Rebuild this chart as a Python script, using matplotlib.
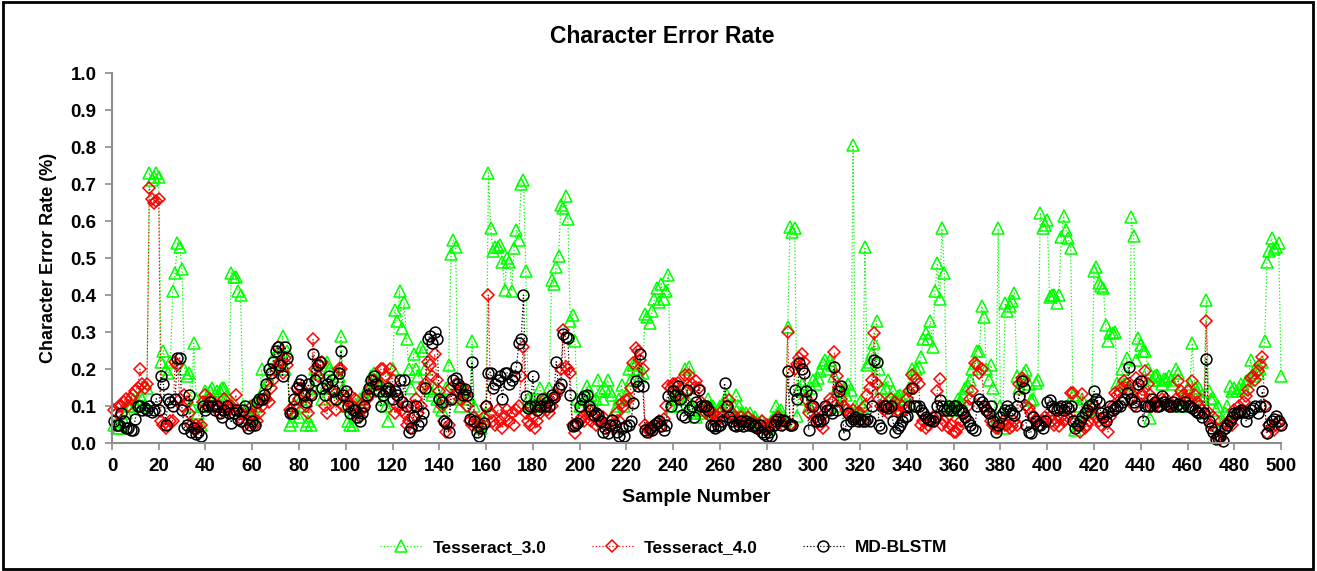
import numpy as np
import matplotlib
matplotlib.use("Agg")
import matplotlib.pyplot as plt
from matplotlib.patches import Rectangle

plt.rcParams['font.family'] = ['Liberation Sans', 'DejaVu Sans']
plt.rcParams['font.weight'] = 'bold'

# character error rate per sample (samples 1..500)
tess3 = [
    0.05, 0.04, 0.04, 0.05, 0.06, 0.08, 0.1, 0.1, 0.12, 0.1,
    0.11, 0.13, 0.12, 0.1, 0.15, 0.73, 0.71, 0.72, 0.73, 0.72,
    0.22, 0.25, 0.2, 0.19, 0.22, 0.41, 0.46, 0.54, 0.53, 0.47,
    0.2, 0.18, 0.19, 0.1, 0.27, 0.12, 0.08, 0.05, 0.1, 0.14,
    0.13, 0.14, 0.15, 0.13, 0.14, 0.14, 0.15, 0.15, 0.13, 0.12,
    0.46, 0.45, 0.45, 0.41, 0.40, 0.1, 0.09, 0.08, 0.1, 0.07,
    0.08, 0.1, 0.12, 0.2, 0.15, 0.13, 0.17, 0.2, 0.23, 0.21,
    0.25, 0.22, 0.29, 0.2, 0.25, 0.05, 0.06, 0.08, 0.12, 0.07,
    0.12, 0.1, 0.05, 0.06, 0.05, 0.15, 0.2, 0.19, 0.15, 0.12,
    0.15, 0.22, 0.2, 0.15, 0.12, 0.19, 0.18, 0.29, 0.15, 0.1,
    0.06, 0.05, 0.05, 0.07, 0.1, 0.12, 0.1, 0.13, 0.15, 0.14,
    0.18, 0.19, 0.17, 0.15, 0.16, 0.12, 0.1, 0.06, 0.15, 0.2,
    0.36, 0.33, 0.41, 0.31, 0.38, 0.28, 0.2, 0.15, 0.24, 0.2,
    0.18, 0.26, 0.25, 0.2, 0.15, 0.14, 0.13, 0.15, 0.12, 0.1,
    0.09, 0.12, 0.15, 0.21, 0.51, 0.55, 0.53, 0.12, 0.1, 0.14,
    0.14, 0.13, 0.12, 0.275, 0.1, 0.06, 0.05, 0.04, 0.06, 0.08,
    0.73, 0.58, 0.52, 0.53, 0.53, 0.535, 0.49, 0.415, 0.5, 0.49,
    0.41, 0.527, 0.576, 0.55, 0.70, 0.71, 0.464, 0.12, 0.1, 0.12,
    0.1, 0.12, 0.15, 0.12, 0.1, 0.12, 0.15, 0.44, 0.43, 0.476,
    0.505, 0.644, 0.635, 0.667, 0.605, 0.33, 0.347, 0.275, 0.12, 0.1,
    0.1, 0.12, 0.153, 0.14, 0.13, 0.1, 0.12, 0.17, 0.14, 0.12,
    0.15, 0.17, 0.14, 0.13, 0.09, 0.1, 0.12, 0.158, 0.1, 0.13,
    0.2, 0.17, 0.21, 0.216, 0.2, 0.18, 0.19, 0.35, 0.34, 0.324,
    0.356, 0.39, 0.42, 0.38, 0.43, 0.39, 0.41, 0.455, 0.1, 0.12,
    0.12, 0.1, 0.13, 0.15, 0.2, 0.12, 0.207, 0.1, 0.08, 0.07,
    0.09, 0.08, 0.1, 0.09, 0.12, 0.1, 0.1, 0.08, 0.09, 0.1,
    0.1, 0.12, 0.13, 0.1, 0.08, 0.1, 0.13, 0.1, 0.08, 0.08,
    0.08, 0.07, 0.08, 0.06, 0.07, 0.06, 0.05, 0.06, 0.05, 0.04,
    0.05, 0.06, 0.07, 0.1, 0.08, 0.09, 0.07, 0.06, 0.313, 0.585,
    0.57, 0.58, 0.072, 0.15, 0.16, 0.14, 0.12, 0.1, 0.15, 0.17,
    0.16, 0.175, 0.194, 0.216, 0.225, 0.2, 0.225, 0.21, 0.18, 0.15,
    0.1, 0.12, 0.15, 0.13, 0.16, 0.144, 0.806, 0.1, 0.08, 0.11,
    0.1, 0.53, 0.21, 0.22, 0.243, 0.27, 0.33, 0.2, 0.15, 0.12,
    0.15, 0.17, 0.1, 0.14, 0.12, 0.126, 0.13, 0.12, 0.126, 0.1,
    0.15, 0.2, 0.19, 0.2, 0.207, 0.234, 0.28, 0.297, 0.28, 0.33,
    0.26, 0.41, 0.486, 0.39, 0.58, 0.46, 0.1, 0.1, 0.09, 0.1,
    0.1, 0.12, 0.11, 0.13, 0.15, 0.153, 0.17, 0.2, 0.216, 0.248,
    0.25, 0.37, 0.342, 0.2, 0.17, 0.21, 0.15, 0.06, 0.58, 0.1,
    0.04, 0.378, 0.356, 0.37, 0.383, 0.405, 0.18, 0.15, 0.17, 0.19,
    0.198, 0.16, 0.117, 0.12, 0.162, 0.17, 0.623, 0.58, 0.59, 0.604,
    0.396, 0.40, 0.4, 0.378, 0.4, 0.558, 0.614, 0.576, 0.554, 0.527,
    0.13, 0.036, 0.05, 0.1, 0.12, 0.08, 0.1, 0.09, 0.1, 0.464,
    0.477, 0.432, 0.424, 0.42, 0.32, 0.275, 0.297, 0.297, 0.3, 0.162,
    0.16, 0.2, 0.16, 0.23, 0.15, 0.61, 0.56, 0.225, 0.284, 0.266,
    0.25, 0.248, 0.2, 0.068, 0.17, 0.18, 0.185, 0.17, 0.16, 0.174,
    0.174, 0.18, 0.17, 0.16, 0.2, 0.19, 0.1, 0.13, 0.12, 0.15,
    0.16, 0.27, 0.15, 0.14, 0.15, 0.13, 0.12, 0.387, 0.14, 0.12,
    0.122, 0.09, 0.1, 0.04, 0.06, 0.08, 0.1, 0.153, 0.14, 0.15,
    0.14, 0.15, 0.16, 0.15, 0.167, 0.17, 0.225, 0.18, 0.2, 0.19,
    0.2, 0.22, 0.275, 0.49, 0.518, 0.554, 0.524, 0.53, 0.54, 0.182,
]

tess4 = [
    0.09, 0.08, 0.1, 0.1, 0.11, 0.12, 0.1, 0.12, 0.13, 0.14,
    0.15, 0.2, 0.16, 0.15, 0.16, 0.69, 0.66, 0.65, 0.655, 0.66,
    0.06, 0.05, 0.04, 0.05, 0.06, 0.06, 0.22, 0.21, 0.12, 0.1,
    0.13, 0.11, 0.08, 0.05, 0.04, 0.05, 0.04, 0.05, 0.11, 0.13,
    0.1, 0.12, 0.11, 0.1, 0.1, 0.08, 0.09, 0.12, 0.1, 0.09,
    0.1, 0.09, 0.13, 0.09, 0.08, 0.06, 0.05, 0.06, 0.08, 0.1,
    0.05, 0.06, 0.08, 0.1, 0.12, 0.12, 0.11, 0.15, 0.17, 0.2,
    0.26, 0.22, 0.19, 0.23, 0.21, 0.09, 0.08, 0.1, 0.15, 0.12,
    0.15, 0.13, 0.1, 0.08, 0.13, 0.28, 0.2, 0.18, 0.21, 0.22,
    0.1, 0.08, 0.15, 0.14, 0.12, 0.09, 0.2, 0.2, 0.1, 0.12,
    0.11, 0.13, 0.1, 0.12, 0.08, 0.07, 0.09, 0.1, 0.12, 0.13,
    0.15, 0.17, 0.14, 0.16, 0.2, 0.2, 0.18, 0.15, 0.2, 0.17,
    0.08, 0.1, 0.12, 0.09, 0.08, 0.05, 0.06, 0.04, 0.1, 0.12,
    0.08, 0.1, 0.15, 0.16, 0.22, 0.21, 0.18, 0.24, 0.17, 0.14,
    0.1, 0.06, 0.03, 0.05, 0.15, 0.12, 0.16, 0.14, 0.12, 0.15,
    0.13, 0.1, 0.06, 0.05, 0.07, 0.06, 0.04, 0.05, 0.07, 0.1,
    0.40, 0.08, 0.06, 0.05, 0.09, 0.06, 0.04, 0.07, 0.09, 0.06,
    0.08, 0.05, 0.09, 0.1, 0.18, 0.26, 0.08, 0.06, 0.05, 0.07,
    0.04, 0.06, 0.08, 0.1, 0.12, 0.09, 0.08, 0.1, 0.12, 0.13,
    0.15, 0.2, 0.306, 0.207, 0.2, 0.19, 0.05, 0.027, 0.05, 0.06,
    0.07, 0.06, 0.08, 0.09, 0.06, 0.07, 0.05, 0.06, 0.06, 0.07,
    0.05, 0.04, 0.06, 0.05, 0.04, 0.08, 0.06, 0.108, 0.1, 0.117,
    0.12, 0.15, 0.216, 0.257, 0.25, 0.225, 0.2, 0.05, 0.04, 0.03,
    0.04, 0.05, 0.055, 0.06, 0.045, 0.065, 0.1, 0.153, 0.15, 0.16,
    0.16, 0.162, 0.13, 0.12, 0.185, 0.14, 0.183, 0.16, 0.15, 0.167,
    0.15, 0.11, 0.1, 0.08, 0.09, 0.07, 0.08, 0.06, 0.07, 0.08,
    0.07, 0.06, 0.1, 0.117, 0.08, 0.07, 0.06, 0.06, 0.07, 0.06,
    0.06, 0.07, 0.05, 0.06, 0.05, 0.04, 0.05, 0.06, 0.04, 0.05,
    0.04, 0.05, 0.06, 0.05, 0.07, 0.06, 0.05, 0.06, 0.3, 0.05,
    0.05, 0.2, 0.215, 0.23, 0.24, 0.22, 0.12, 0.08, 0.1, 0.1,
    0.07, 0.06, 0.05, 0.04, 0.08, 0.1, 0.12, 0.11, 0.245, 0.18,
    0.15, 0.12, 0.1, 0.09, 0.08, 0.08, 0.09, 0.07, 0.08, 0.06,
    0.06, 0.1, 0.13, 0.15, 0.17, 0.297, 0.16, 0.12, 0.1, 0.09,
    0.1, 0.08, 0.12, 0.1, 0.11, 0.09, 0.08, 0.1, 0.09, 0.12,
    0.14, 0.183, 0.15, 0.174, 0.16, 0.05, 0.06, 0.04, 0.05, 0.06,
    0.07, 0.06, 0.14, 0.174, 0.05, 0.06, 0.07, 0.04, 0.05, 0.03,
    0.03, 0.04, 0.06, 0.08, 0.07, 0.1, 0.12, 0.14, 0.216, 0.21,
    0.19, 0.2, 0.1, 0.09, 0.08, 0.06, 0.05, 0.04, 0.04, 0.05,
    0.06, 0.05, 0.05, 0.04, 0.045, 0.06, 0.05, 0.16, 0.176, 0.17,
    0.1, 0.095, 0.08, 0.07, 0.065, 0.06, 0.05, 0.06, 0.07, 0.06,
    0.07, 0.06, 0.05, 0.06, 0.045, 0.07, 0.06, 0.065, 0.07, 0.135,
    0.135, 0.06, 0.05, 0.03, 0.133, 0.04, 0.05, 0.06, 0.08, 0.1,
    0.07, 0.06, 0.05, 0.065, 0.06, 0.03, 0.07, 0.1, 0.135, 0.13,
    0.135, 0.15, 0.167, 0.16, 0.14, 0.12, 0.1, 0.176, 0.15, 0.13,
    0.13, 0.194, 0.16, 0.13, 0.1, 0.1, 0.11, 0.1, 0.12, 0.11,
    0.12, 0.1, 0.105, 0.1, 0.12, 0.167, 0.14, 0.13, 0.12, 0.14,
    0.12, 0.167, 0.13, 0.11, 0.1, 0.09, 0.08, 0.33, 0.08, 0.05,
    0.07, 0.04, 0.02, 0.01, 0.03, 0.05, 0.055, 0.06, 0.05, 0.09,
    0.08, 0.1, 0.085, 0.11, 0.126, 0.144, 0.176, 0.18, 0.17, 0.194,
    0.21, 0.234, 0.1, 0.027, 0.05, 0.04, 0.035, 0.05, 0.06, 0.05,
]

mdblstm = [
    0.06, 0.05, 0.05, 0.08, 0.06, 0.04, 0.04, 0.035, 0.035, 0.065,
    0.1, 0.1, 0.09, 0.095, 0.09, 0.1, 0.085, 0.09, 0.12, 0.09,
    0.18, 0.16, 0.05, 0.12, 0.11, 0.1, 0.12, 0.23, 0.23, 0.09,
    0.04, 0.05, 0.13, 0.03, 0.04, 0.025, 0.03, 0.02, 0.1, 0.09,
    0.1, 0.11, 0.1, 0.09, 0.1, 0.08, 0.07, 0.09, 0.1, 0.08,
    0.055, 0.08, 0.09, 0.065, 0.06, 0.09, 0.1, 0.04, 0.05, 0.06,
    0.05, 0.11, 0.12, 0.12, 0.13, 0.16, 0.2, 0.19, 0.22, 0.25,
    0.26, 0.21, 0.18, 0.26, 0.23, 0.08, 0.08, 0.12, 0.15, 0.16,
    0.17, 0.13, 0.11, 0.16, 0.13, 0.24, 0.17, 0.21, 0.22, 0.15,
    0.13, 0.16, 0.18, 0.17, 0.14, 0.12, 0.19, 0.25, 0.13, 0.14,
    0.1, 0.08, 0.09, 0.09, 0.07, 0.06, 0.08, 0.1, 0.13, 0.15,
    0.17, 0.18, 0.16, 0.14, 0.1, 0.13, 0.14, 0.15, 0.14, 0.12,
    0.14, 0.13, 0.17, 0.11, 0.17, 0.1, 0.03, 0.04, 0.07, 0.1,
    0.05, 0.06, 0.08, 0.15, 0.28, 0.29, 0.27, 0.3, 0.28, 0.12,
    0.11, 0.06, 0.055, 0.03, 0.12, 0.17, 0.175, 0.16, 0.15, 0.13,
    0.145, 0.13, 0.065, 0.22, 0.06, 0.03, 0.02, 0.04, 0.055, 0.1,
    0.19, 0.19, 0.15, 0.16, 0.17, 0.18, 0.12, 0.19, 0.19, 0.16,
    0.17, 0.18, 0.207, 0.27, 0.28, 0.40, 0.128, 0.095, 0.1, 0.18,
    0.1, 0.09, 0.1, 0.12, 0.1, 0.11, 0.1, 0.13, 0.125, 0.22,
    0.15, 0.16, 0.295, 0.288, 0.283, 0.13, 0.045, 0.05, 0.054, 0.1,
    0.12, 0.126, 0.13, 0.1, 0.09, 0.077, 0.08, 0.077, 0.06, 0.03,
    0.04, 0.027, 0.05, 0.063, 0.05, 0.03, 0.02, 0.04, 0.018, 0.045,
    0.05, 0.06, 0.108, 0.167, 0.153, 0.24, 0.153, 0.036, 0.03, 0.04,
    0.035, 0.05, 0.054, 0.06, 0.045, 0.036, 0.05, 0.126, 0.1, 0.14,
    0.13, 0.153, 0.12, 0.077, 0.07, 0.144, 0.09, 0.1, 0.07, 0.11,
    0.144, 0.1, 0.1, 0.1, 0.09, 0.05, 0.045, 0.04, 0.045, 0.05,
    0.06, 0.162, 0.1, 0.07, 0.06, 0.05, 0.045, 0.05, 0.06, 0.045,
    0.06, 0.05, 0.055, 0.045, 0.05, 0.04, 0.05, 0.03, 0.025, 0.02,
    0.03, 0.018, 0.05, 0.06, 0.065, 0.05, 0.063, 0.06, 0.194, 0.05,
    0.05, 0.144, 0.12, 0.216, 0.2, 0.19, 0.14, 0.036, 0.13, 0.1,
    0.06, 0.065, 0.06, 0.065, 0.1, 0.09, 0.09, 0.08, 0.205, 0.09,
    0.14, 0.153, 0.025, 0.05, 0.08, 0.06, 0.065, 0.07, 0.06, 0.065,
    0.06, 0.06, 0.065, 0.06, 0.1, 0.225, 0.22, 0.05, 0.04, 0.1,
    0.1, 0.095, 0.1, 0.06, 0.03, 0.04, 0.05, 0.06, 0.07, 0.072,
    0.1, 0.148, 0.1, 0.1, 0.1, 0.09, 0.08, 0.07, 0.065, 0.063,
    0.06, 0.07, 0.1, 0.117, 0.1, 0.09, 0.09, 0.1, 0.09, 0.1,
    0.1, 0.09, 0.09, 0.08, 0.07, 0.06, 0.05, 0.04, 0.036, 0.1,
    0.12, 0.11, 0.1, 0.09, 0.08, 0.1, 0.06, 0.03, 0.05, 0.07,
    0.08, 0.09, 0.1, 0.09, 0.08, 0.075, 0.1, 0.126, 0.167, 0.15,
    0.05, 0.03, 0.027, 0.07, 0.06, 0.05, 0.05, 0.04, 0.06, 0.11,
    0.117, 0.1, 0.095, 0.09, 0.095, 0.1, 0.09, 0.1, 0.095, 0.1,
    0.06, 0.04, 0.05, 0.06, 0.07, 0.08, 0.09, 0.1, 0.105, 0.14,
    0.12, 0.11, 0.08, 0.07, 0.06, 0.085, 0.1, 0.09, 0.095, 0.1,
    0.1, 0.11, 0.12, 0.135, 0.207, 0.12, 0.11, 0.1, 0.16, 0.167,
    0.06, 0.1, 0.1, 0.1, 0.12, 0.11, 0.1, 0.1, 0.126, 0.11,
    0.105, 0.1, 0.1, 0.11, 0.1, 0.105, 0.1, 0.1, 0.11, 0.1,
    0.1, 0.095, 0.09, 0.085, 0.08, 0.07, 0.08, 0.227, 0.06, 0.04,
    0.03, 0.01, 0.015, 0.02, 0.005, 0.04, 0.05, 0.06, 0.07, 0.08,
    0.08, 0.085, 0.09, 0.085, 0.06, 0.08, 0.09, 0.095, 0.1, 0.08,
    0.1, 0.14, 0.1, 0.027, 0.05, 0.06, 0.065, 0.072, 0.06, 0.05,
]

samples = np.arange(1, len(tess3) + 1)

fig = plt.figure(figsize=(13.17, 5.71), dpi=100)
ax = fig.add_axes([0.085, 0.224, 0.8877, 0.648])

ax.plot(samples, tess3, linestyle=':', linewidth=0.9, color='#00ff00',
        marker='^', markersize=8.5, markerfacecolor='none',
        markeredgecolor='#00ff00', markeredgewidth=1.1,
        label='Tesseract_3.0', clip_on=False)
ax.plot(samples, tess4, linestyle=':', linewidth=0.9, color='#ff0000',
        marker='D', markersize=6.3, markerfacecolor='none',
        markeredgecolor='#ff0000', markeredgewidth=1.1,
        label='Tesseract_4.0', clip_on=False)
ax.plot(samples, mdblstm, linestyle=':', linewidth=0.9, color='black',
        marker='o', markersize=7.8, markerfacecolor='none',
        markeredgecolor='black', markeredgewidth=1.1,
        label='MD-BLSTM', clip_on=False)

ax.set_xlim(0, 500)
ax.set_ylim(0, 1.0)
ax.set_xticks(np.arange(0, 501, 20))
ax.set_yticks(np.arange(0, 1.01, 0.1))
ax.set_yticklabels([f'{v:.1f}' for v in np.arange(0, 1.01, 0.1)])

for s in ['top', 'right']:
    ax.spines[s].set_visible(False)
for s in ['left', 'bottom']:
    ax.spines[s].set_color('#8c8c8c')
    ax.spines[s].set_linewidth(1.5)
ax.tick_params(axis='both', direction='out', length=5, width=1.2,
               color='#8c8c8c', labelsize=13.5, labelcolor='black')
ax.tick_params(axis='x', pad=6)
ax.tick_params(axis='y', pad=6)
for lab in ax.get_xticklabels() + ax.get_yticklabels():
    lab.set_fontweight('bold')

fig.text(0.503, 0.936, 'Character Error Rate', ha='center', va='center',
         fontsize=16.5, fontweight='bold')
ax.set_xlabel('Sample Number', fontsize=14, fontweight='bold', labelpad=10)
ax.set_ylabel('Character Error Rate (%)', fontsize=13, fontweight='bold', labelpad=10)

fig.legend(loc='center', bbox_to_anchor=(0.504, 0.042), ncol=3, frameon=False,
           handlelength=2.4, handletextpad=0.6, columnspacing=2.6,
           prop={'weight': 'bold', 'size': 12.5})

fig.patches.append(Rectangle((0.002, 0.003), 0.995, 0.994, transform=fig.transFigure,
                             fill=False, edgecolor='black', linewidth=2))

fig.savefig('out.png', dpi=100)
